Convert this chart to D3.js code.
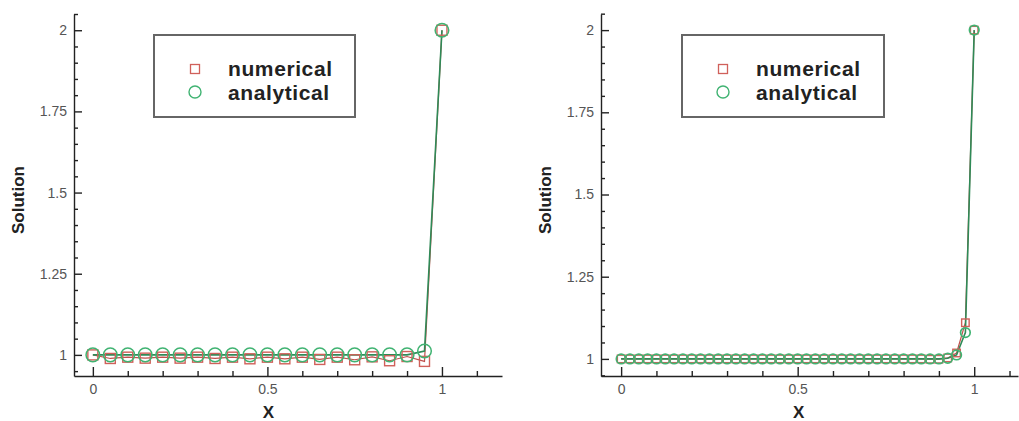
<!DOCTYPE html>
<html>
<head>
<meta charset="utf-8">
<script src="https://cdn.jsdelivr.net/npm/d3@7"></script>
<style>
  body { margin: 0; background: #fff; }
  svg { display: block; }
  .tick text { font-family: "Liberation Sans", Arial, sans-serif; font-size: 14px; fill: #555; }
</style>
</head>
<body>
<svg id="chart" width="1019" height="421"></svg>
<script>
// left panel: 21 nodes
const leftX = [0, 0.05, 0.1, 0.15, 0.2, 0.25, 0.3, 0.35, 0.4, 0.45, 0.5,
               0.55, 0.6, 0.65, 0.7, 0.75, 0.8, 0.85, 0.9, 0.95, 1];
const leftNumerical = [1, 0.989, 0.993, 0.99, 0.993, 0.99, 0.993, 0.989, 0.993, 0.988, 0.993,
                       0.988, 0.993, 0.986, 0.993, 0.985, 0.994, 0.982, 0.995, 0.98, 2];
const leftAnalytical = [1, 1, 1, 1, 1, 1, 1, 1, 1, 1, 1,
                        1, 1, 1, 1, 1, 1, 1, 1, 1.012, 2];

// right panel: 41 nodes
const rightX = [0, 0.025, 0.05, 0.075, 0.1, 0.125, 0.15, 0.175, 0.2, 0.225, 0.25,
                0.275, 0.3, 0.325, 0.35, 0.375, 0.4, 0.425, 0.45, 0.475, 0.5,
                0.525, 0.55, 0.575, 0.6, 0.625, 0.65, 0.675, 0.7, 0.725, 0.75,
                0.775, 0.8, 0.825, 0.85, 0.875, 0.9, 0.925, 0.95, 0.975, 1];
const rightNumerical = [1, 1, 1, 1, 1, 1, 1, 1, 1, 1, 1,
                        1, 1, 1, 1, 1, 1, 1, 1, 1, 1,
                        1, 1, 1, 1, 1, 1, 1, 1, 1, 1,
                        1, 1, 1, 1, 0.999, 0.999, 1.003, 1.018, 1.11, 2];
const rightAnalytical = [1, 1, 1, 1, 1, 1, 1, 1, 1, 1, 1,
                         1, 1, 1, 1, 1, 1, 1, 1, 1, 1,
                         1, 1, 1, 1, 1, 1, 1, 1, 1, 1,
                         1, 1, 1, 1, 1, 1, 1.002, 1.012, 1.08, 2];

const yMajor = [1, 1.25, 1.5, 1.75, 2];
const yMinor = [0.95, 1.05, 1.1, 1.15, 1.2, 1.3, 1.35, 1.4, 1.45, 1.55, 1.6, 1.65, 1.7, 1.8, 1.85, 1.9, 1.95, 2.05];
const xMajor = [0, 0.5, 1];
const xMinor = [0.1, 0.2, 0.3, 0.4, 0.6, 0.7, 0.8, 0.9, 1.1];
const seriesNames = ['numerical', 'analytical'];

const svg = d3.select('#chart');
const font = '"Liberation Sans", Arial, sans-serif';
const redC = '#d0605a';
const greenC = '#40b372';
const lineGreen = '#2f8a57';

function panel(cfg) {
  const x = d3.scaleLinear().domain(cfg.xDomain).range([cfg.left, cfg.right]);
  const y = d3.scaleLinear().domain(cfg.yDomain).range([cfg.bottom, cfg.top]);
  const g = svg.append('g');

  // axes, ticks point inward
  g.append('g').attr('transform', `translate(${cfg.left},0)`)
    .call(d3.axisLeft(y).tickValues(yMajor).tickSizeInner(-8).tickSizeOuter(0).tickPadding(7)
      .tickFormat(d => d3.format('')(d)));
  g.append('g').attr('transform', `translate(${cfg.left},0)`)
    .call(d3.axisLeft(y).tickValues(yMinor).tickSizeInner(-4).tickSizeOuter(0).tickFormat(''))
    .select('.domain').remove();
  g.append('g').attr('transform', `translate(0,${cfg.bottom})`)
    .call(d3.axisBottom(x).tickValues(xMajor).tickSizeInner(-9).tickSizeOuter(0).tickPadding(8)
      .tickFormat(d => d3.format('')(d)));
  g.append('g').attr('transform', `translate(0,${cfg.bottom})`)
    .call(d3.axisBottom(x).tickValues(xMinor).tickSizeInner(-5).tickSizeOuter(0).tickFormat(''))
    .select('.domain').remove();
  g.selectAll('.domain, .tick line').attr('stroke', '#222').attr('stroke-width', 1.4);

  // axis titles
  g.append('text').attr('x', x(0.5) + 1).attr('y', 418).attr('text-anchor', 'middle')
    .style('font-family', font).style('font-size', '17px').style('font-weight', 'bold').style('fill', '#222')
    .text('X');
  g.append('text')
    .attr('transform', `translate(${cfg.left - 50},${(cfg.top + cfg.bottom) / 2 + 5}) rotate(-90)`)
    .attr('text-anchor', 'middle')
    .style('font-family', font).style('font-size', '17px').style('font-weight', 'bold').style('fill', '#222')
    .text('Solution');

  // lines
  const line = d3.line().x(d => x(d[0])).y(d => y(d[1]));
  const num = cfg.xs.map((v, i) => [v, cfg.num[i]]);
  const ana = cfg.xs.map((v, i) => [v, cfg.ana[i]]);
  g.append('path').datum(num).attr('d', line).attr('fill', 'none').attr('stroke', '#c0504d').attr('stroke-width', 1.2);
  g.append('path').datum(ana).attr('d', line).attr('fill', 'none').attr('stroke', lineGreen).attr('stroke-width', 1.6);

  // markers
  const s = cfg.sq;
  g.selectAll('rect.num').data(num).join('rect').attr('class', 'num')
    .attr('x', d => x(d[0]) - s / 2).attr('y', d => y(d[1]) - s / 2)
    .attr('width', s).attr('height', s)
    .attr('fill', 'none').attr('stroke', redC).attr('stroke-width', 1.4);
  g.selectAll('circle.ana').data(ana).join('circle').attr('class', 'ana')
    .attr('cx', d => x(d[0])).attr('cy', d => y(d[1])).attr('r', cfg.r)
    .attr('fill', 'none').attr('stroke', greenC).attr('stroke-width', cfg.cw);

  // legend
  const lg = g.append('g');
  lg.append('rect').attr('x', cfg.legX).attr('y', 35).attr('width', cfg.legW).attr('height', 82)
    .attr('fill', '#fff').attr('stroke', '#666').attr('stroke-width', 2);
  const mx = cfg.legX + 41;
  lg.append('rect').attr('x', mx - 4.5).attr('y', 64.5).attr('width', 9).attr('height', 9)
    .attr('fill', 'none').attr('stroke', redC).attr('stroke-width', 1.3);
  lg.append('circle').attr('cx', mx).attr('cy', 92).attr('r', 6)
    .attr('fill', 'none').attr('stroke', greenC).attr('stroke-width', 1.4);
  seriesNames.forEach((n, i) => {
    lg.append('text').attr('x', mx + 33).attr('y', 76 + i * 24)
      .style('font-family', font).style('font-size', '21px').style('font-weight', 'bold')
      .style('letter-spacing', '0.6px').style('fill', '#222')
      .text(n);
  });
}

panel({
  left: 74, right: 502, top: 14, bottom: 376,
  xDomain: [-0.054, 1.172], yDomain: [0.935, 2.05],
  xs: leftX, num: leftNumerical, ana: leftAnalytical,
  sq: 10, r: 6.8, cw: 1.5, legX: 154, legW: 201
});
panel({
  left: 601, right: 1018, top: 14, bottom: 376,
  xDomain: [-0.057, 1.124], yDomain: [0.948, 2.049],
  xs: rightX, num: rightNumerical, ana: rightAnalytical,
  sq: 7.5, r: 4.8, cw: 1.7, legX: 682, legW: 202
});
</script>
</body>
</html>
